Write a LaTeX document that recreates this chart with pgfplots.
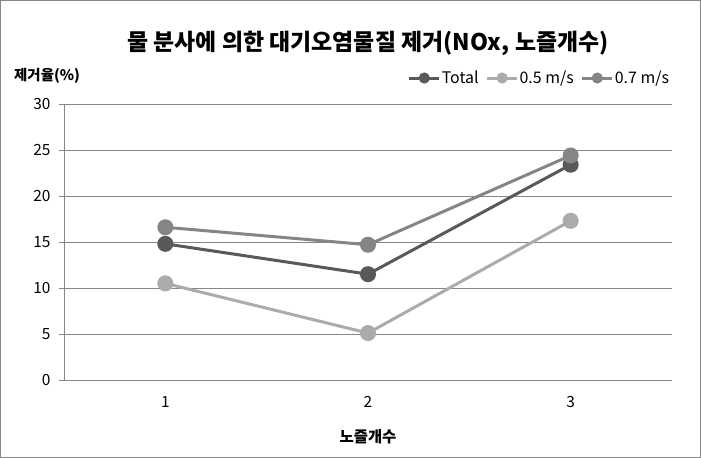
\documentclass[border=0pt]{standalone}
\usepackage{fontspec}
\setmainfont{Noto Sans CJK KR}
\usepackage{pgfplots}
\pgfplotsset{compat=1.18}
\definecolor{cT}{HTML}{595959}
\definecolor{cA}{HTML}{ABABAB}
\definecolor{cB}{HTML}{858585}
\definecolor{gridc}{HTML}{868686}
\begin{document}
\begin{tikzpicture}[x=1bp,y=1bp]
\useasboundingbox (0,0) rectangle (701,458);
\draw[gridc, line width=1.2bp] (0.6,0.6) rectangle (700.4,457.4);
\begin{axis}[
  at={(64bp,78bp)}, anchor=south west,
  scale only axis, width=608bp, height=276bp,
  xmin=0.5, xmax=3.5, ymin=0, ymax=30,
  xtick={1,2,3}, ytick={0,5,...,30},
  ymajorgrids, major grid style={color=gridc, line width=0.8bp},
  axis x line*=bottom, axis y line*=left,
  axis line style={gridc, line width=0.8bp, -},
  x tick style={draw=none},
  y tick style={gridc, line width=0.8bp},
  tick align=outside, major tick length=5bp,
  /pgf/number format/assume math mode=true,
  tick label style={font=\fontsize{15.5}{17}\selectfont, text=black},
  yticklabel style={xshift=-5bp},
  xticklabel style={yshift=-8bp},
  legend style={at={(axis description cs:0.997,1.094)}, anchor=east, draw=none, fill=none,
    font=\fontsize{16}{18}\selectfont, inner sep=0pt,
    /tikz/every even column/.append style={column sep=6bp},
    nodes={inner sep=1bp}},
  legend columns=3,
  legend image code/.code={\draw[#1, mark size=4bp, mark repeat=2, mark phase=2] plot coordinates {(0bp,0bp) (15bp,0bp) (30bp,0bp)};},
  every axis plot/.append style={line width=3bp, mark=*, mark size=6.5bp},
]
\addplot[color=cT, mark options={fill=cT, draw=cT}] coordinates {(1,14.8) (2,11.5) (3,23.4)};
\addlegendentry{Total}
\addplot[color=cA, mark options={fill=cA, draw=cA}] coordinates {(1,10.5) (2,5.1) (3,17.3)};
\addlegendentry{0.5 m/s}
\addplot[color=cB, mark options={fill=cB, draw=cB}] coordinates {(1,16.6) (2,14.7) (3,24.4)};
\addlegendentry{0.7 m/s}
\end{axis}
\node[font=\fontsize{23}{26}\selectfont\bfseries] at (368,415) {물 분사에 의한 대기오염물질 제거(NOx, 노즐개수)};
\node[font=\fontsize{14.5}{16}\selectfont\bfseries, anchor=west, inner sep=0pt] at (14,382) {제거율(\%)};
\node[font=\fontsize{15.5}{17}\selectfont\bfseries] at (368,21) {노즐개수};
\end{tikzpicture}
\end{document}
